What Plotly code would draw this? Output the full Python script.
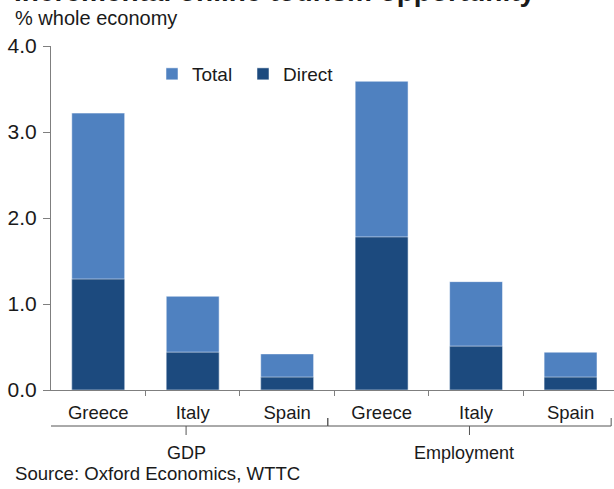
import plotly.graph_objects as go

# ---- data ----
categories = ["Greece", "Italy", "Spain", "Greece", "Italy", "Spain"]
groups = ["GDP", "Employment"]
group_sizes = [3, 3]
total = [3.22, 1.09, 0.42, 3.59, 1.26, 0.44]
direct = [1.29, 0.44, 0.15, 1.78, 0.51, 0.15]
y_ticks = [0, 1, 2, 3, 4]

title_text = "Incremental online tourism opportunity"
subtitle_text = "% whole economy"
source_text = "Source: Oxford Economics, WTTC"

FONT = "Liberation Sans, Arial, sans-serif"
TXT = "#1a1a1a"
C_TOTAL = "#4f81c0"
C_DIRECT = "#1c4a7e"
AX = "#7f7f7f"

x_pos = list(range(len(categories)))

fig = go.Figure()
fig.add_trace(go.Bar(x=x_pos, y=total, name="Total", marker=dict(color=C_TOTAL,
                     line=dict(color="rgba(255,255,255,0.5)", width=1)), width=0.56))
fig.add_trace(go.Bar(x=x_pos, y=direct, name="Direct", marker=dict(color=C_DIRECT,
                     line=dict(color="rgba(255,255,255,0.5)", width=1)), width=0.56))

W, H = 614, 489
L, R, T, B = 51, 0, 46, 99
ph = H - T - B


def py(pix):
    # pixel y (from top) -> paper y
    return (H - B - pix) / ph


def pxx(pix):
    return (pix - L) / (W - L - R)


fig.update_layout(
    width=W, height=H,
    margin=dict(l=L, r=R, t=T, b=B, autoexpand=False),
    barmode="overlay",
    paper_bgcolor="white", plot_bgcolor="white",
    font=dict(family=FONT, size=18, color=TXT),
    showlegend=True,
    legend=dict(orientation="h", x=pxx(152), y=py(74), xanchor="left", yanchor="middle",
                font=dict(size=19, color=TXT), bgcolor="rgba(0,0,0,0)",
                traceorder="normal", itemwidth=30,
                entrywidth=46, entrywidthmode="pixels"),
    xaxis=dict(range=[-0.5, 5.46], tickmode="array", tickvals=x_pos, ticktext=categories,
               ticks="", showline=True, linecolor=AX, linewidth=1, showgrid=False,
               zeroline=False, tickfont=dict(size=18.5, color=TXT), ticklabelstandoff=6,
               minor=dict(tickmode="array",
                          tickvals=[i + 0.5 for i in x_pos[:-1]],
                          ticks="outside", ticklen=5, tickcolor=AX, showgrid=False)),
    yaxis=dict(range=[0, 4], tickmode="array", tickvals=y_ticks,
               ticktext=[f"{v:.1f}" for v in y_ticks],
               ticks="outside", ticklen=7, tickcolor=AX, showline=True, linecolor=AX,
               linewidth=1, showgrid=False, zeroline=False, ticklabelstandoff=2,
               tickfont=dict(size=21, color=TXT)),
)

# title (cut off at top as in reference)
fig.add_annotation(text=f"<b>{title_text}</b>", xref="paper", yref="paper",
                   x=pxx(12), y=py(-8.5), xanchor="left", yanchor="middle",
                   showarrow=False, font=dict(size=28, color=TXT))
fig.add_annotation(text=subtitle_text, xref="paper", yref="paper",
                   x=pxx(13), y=py(18), xanchor="left", yanchor="middle",
                   showarrow=False, font=dict(size=20, color=TXT))
fig.add_annotation(text=source_text, xref="paper", yref="paper",
                   x=pxx(13), y=py(473), xanchor="left", yanchor="middle",
                   showarrow=False, font=dict(size=18.6, color=TXT))

# group brackets and labels
start = 0
y_top, y_mid, y_bot = py(418), py(426), py(435)
for g, n in zip(groups, group_sizes):
    x0 = start - 0.57
    x1 = start + n - 1 + 0.43
    xc = (x0 + x1) / 2
    path = (f"M {x0} {y_top} L {x0} {y_mid} L {x1} {y_mid} L {x1} {y_top} "
            f"M {xc} {y_mid} L {xc} {y_bot}")
    fig.add_shape(type="path", path=path, xref="x", yref="paper",
                  line=dict(color="#555555", width=1))
    fig.add_annotation(text=g, xref="x", yref="paper", x=xc + (0.0 if g == "GDP" else -0.06),
                       y=py(453), xanchor="center", yanchor="middle", showarrow=False,
                       font=dict(size=18, color=TXT))
    start += n

fig.write_html("out.html", config={"displayModeBar": False},
               post_script="document.body.style.margin='0';document.body.style.padding='0';")
